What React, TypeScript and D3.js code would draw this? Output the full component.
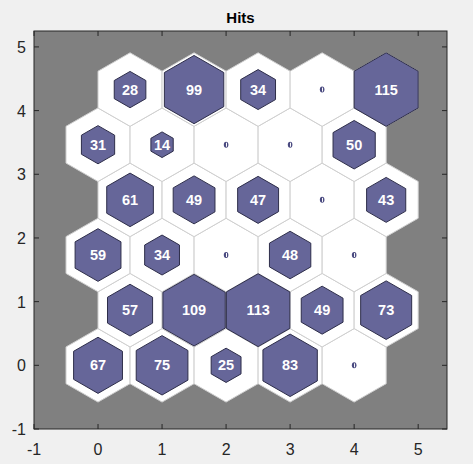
import React from "react";
import * as d3 from "d3";

const W = 473;
const H = 464;
const rowHits: number[][] = [
  [67, 75, 25, 83, 0],
  [57, 109, 113, 49, 73],
  [59, 34, 0, 48, 0],
  [61, 49, 47, 0, 43],
  [31, 14, 0, 0, 50],
  [28, 99, 34, 0, 115],
];
const xTicks = [-1, 0, 1, 2, 3, 4, 5];
const yTicks = [-1, 0, 1, 2, 3, 4, 5];

export default function App() {
  const left = 34, right = 447, top = 31, bottom = 429;
  const x = d3.scaleLinear().domain([-1, 5.45]).range([left, right]);
  const y = d3.scaleLinear().domain([-1, 5.25]).range([bottom, top]);
  const maxHits = d3.max(rowHits.flat()) as number;
  const cells = rowHits.flatMap((row, j) =>
    row.map((h, i) => ({ cx: i + (j % 2) * 0.5, cy: (j * Math.sqrt(3)) / 2, h }))
  );
  const hexPath = (cx: number, cy: number, s: number) => {
    const r = s / Math.sqrt(3);
    const pts = d3.range(6).map((k) => {
      const a = Math.PI / 2 + (k * Math.PI) / 3;
      return [x(cx + r * Math.cos(a)), y(cy + r * Math.sin(a))] as [number, number];
    });
    return d3.line()(pts.concat([pts[0]])) + "Z";
  };
  const font = "'Liberation Sans', Arial, Helvetica, sans-serif";
  return (
    <div style={{ position: "fixed", left: 0, top: 0, width: W, height: H }}>
      <svg width={W} height={H} style={{ display: "block" }}>
        <rect width={W} height={H} fill="#f0f0f0" />
        <rect x={left} y={top} width={right - left} height={bottom - top} fill="#808080" />
        <g>
          {cells.map((c, k) => (
            <path key={"w" + k} d={hexPath(c.cx, c.cy, 1)} fill="#ffffff" stroke="#d0d0d0" strokeWidth={1} />
          ))}
        </g>
        <g>
          {cells.map((c, k) =>
            c.h > 0 ? (
              <path key={"p" + k} d={hexPath(c.cx, c.cy, Math.sqrt(c.h / maxHits))} fill="#666699" stroke="#2e2e4a" strokeWidth={1} />
            ) : (
              <g key={"p" + k}>
                <ellipse cx={x(c.cx)} cy={y(c.cy)} rx={2.3} ry={3} fill="#4a4a80" />
                <line x1={x(c.cx) + 0.4} x2={x(c.cx) + 0.4} y1={y(c.cy) - 2} y2={y(c.cy) + 2} stroke="#ffffff" strokeWidth={1} />
              </g>
            )
          )}
        </g>
        <g>
          {cells
            .filter((c) => c.h > 0)
            .map((c, k) => (
              <text
                key={"t" + k}
                x={x(c.cx)}
                y={y(c.cy) + 5}
                textAnchor="middle"
                fill="#ffffff"
                fontFamily={font}
                fontWeight="bold"
                fontSize={14.5}
              >
                {c.h}
              </text>
            ))}
        </g>
        <rect x={left} y={top} width={right - left} height={bottom - top} fill="none" stroke="#262626" strokeWidth={1} />
        {xTicks.map((t) => (
          <g key={"xt" + t}>
            <line x1={x(t)} x2={x(t)} y1={bottom} y2={bottom - 5} stroke="#262626" />
            <line x1={x(t)} x2={x(t)} y1={top} y2={top + 5} stroke="#262626" />
            <text x={x(t)} y={455} textAnchor="middle" fontFamily={font} fontSize={16} fill="#262626">
              {t}
            </text>
          </g>
        ))}
        {yTicks.map((t) => (
          <g key={"yt" + t}>
            <line x1={left} x2={left + 5} y1={y(t)} y2={y(t)} stroke="#262626" />
            <line x1={right} x2={right - 5} y1={y(t)} y2={y(t)} stroke="#262626" />
            <text x={26} y={y(t) + 6} textAnchor="end" fontFamily={font} fontSize={16} fill="#262626">
              {t}
            </text>
          </g>
        ))}
        <text x={(left + right) / 2} y={23} textAnchor="middle" fontFamily={font} fontWeight="bold" fontSize={15} fill="#000">
          Hits
        </text>
      </svg>
    </div>
  );
}
